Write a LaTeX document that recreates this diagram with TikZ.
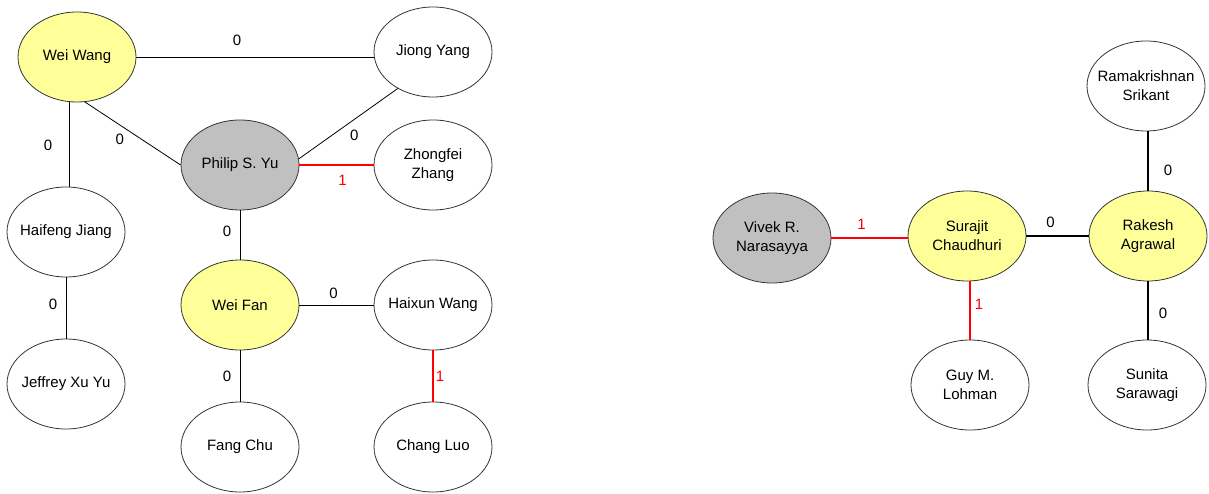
\documentclass[tikz,border=0pt]{standalone}
\usepackage{fontspec}
\setmainfont{Liberation Sans}
\usepackage{xcolor}
\usetikzlibrary{shapes.geometric, positioning}

\definecolor{hiyellow}{RGB}{255,255,153}
\definecolor{seedgray}{RGB}{192,192,192}
\definecolor{tiered}{RGB}{255,0,0}

\begin{document}
\begin{tikzpicture}[
    x=1pt, y=-1pt,
    every node/.style={font=\fontsize{15}{19}\selectfont},
    person/.style={ellipse, draw=black!80, line width=0.8pt, fill=white,
                   minimum width=118pt, minimum height=90pt, inner sep=0pt},
    every label/.style={align=center, inner sep=0pt},
    author/.style={person, fill=hiyellow},
    seed/.style={person, fill=seedgray},
    link/.style={draw=black, line width=0.8pt},
    boldlink/.style={draw=black, line width=1.6pt},
    redlink/.style={draw=tiered, line width=1.6pt},
    lab/.style={inner sep=0pt},
    redlab/.style={inner sep=0pt, text=tiered},
]
\useasboundingbox (0,0) rectangle (1209,494);

% Left graph
\node[author] (weiwang) at (77,57) [label=center:Wei Wang] {};
\node[person] (jiong) at (433,52) [label=center:Jiong Yang] {};
\node[seed] (philip) at (240,165) [label=center:Philip S. Yu] {};
\node[person] (zhongfei) at (433,165) [label={center:Zhongfei\\Zhang}] {};
\node[person] (haifeng) at (66,232) [label=center:Haifeng Jiang] {};
\node[person] (jeffrey) at (66,384) [label=center:Jeffrey Xu Yu] {};
\node[author] (weifan) at (240,305) [label=center:Wei Fan] {};
\node[person] (haixun) at (433,305) [label=center:Haixun Wang] {};
\node[person] (fangchu) at (240,447) [label=center:Fang Chu] {};
\node[person] (changluo) at (433,447) [label=center:Chang Luo] {};

% Right graph
\node[seed] (vivek) at (772,238) [label={center:Vivek R.\\Narasayya}] {};
\node[author] (surajit) at (967,236) [label={center:Surajit\\Chaudhuri}] {};
\node[author] (rakesh) at (1148,236) [label={center:Rakesh\\Agrawal}] {};
\node[person] (srikant) at (1146,86) [label={center:Ramakrishnan\\Srikant}] {};
\node[person] (lohman) at (970,385) [label={center:Guy M.\\Lohman}] {};
\node[person] (sarawagi) at (1147,385) [label={center:Sunita\\Sarawagi}] {};

% Edges
\draw[link] (weiwang.east) -- (weiwang.east -| jiong.west)
    node[lab, pos=0.5, shift={(-18,-17)}] {0};
\draw[link] (weiwang.-80) -- (philip.west)
    node[lab, pos=0.5, shift={(-13,6)}] {0};
\draw[link] (weiwang.-100) -- (weiwang.-100 |- haifeng.north)
    node[lab, pos=0.5, shift={(-21,1)}] {0};
\draw[link] (haifeng.south) -- (jeffrey.north)
    node[lab, pos=0.5, shift={(-13,-4)}] {0};
\draw[link] (jiong.-134) -- (philip.6)
    node[lab, pos=0.5, shift={(6,12)}] {0};
\draw[redlink] (philip.east) -- (zhongfei.west)
    node[redlab, pos=0.5, shift={(6,15)}] {1};
\draw[link] (philip.south) -- (weifan.north)
    node[lab, pos=0.5, shift={(-13,-4)}] {0};
\draw[link] (weifan.east) -- (haixun.west)
    node[lab, pos=0.5, shift={(-3,-12)}] {0};
\draw[link] (weifan.south) -- (fangchu.north)
    node[lab, pos=0.5, shift={(-13,0)}] {0};
\draw[redlink] (haixun.south) -- (changluo.north)
    node[redlab, pos=0.5, shift={(7,0)}] {1};
\draw[redlink] (vivek.east) -- (vivek.east -| surajit.west)
    node[redlab, pos=0.5, shift={(-8,-14)}] {1};
\draw[boldlink] (surajit.east) -- (rakesh.west)
    node[lab, pos=0.5, shift={(-7,-14)}] {0};
\draw[boldlink] (srikant.south -| rakesh.north) -- (rakesh.north)
    node[lab, pos=0.5, shift={(20,9)}] {0};
\draw[redlink] (lohman.north |- surajit.south) -- (lohman.north)
    node[redlab, pos=0.5, shift={(9,-6)}] {1};
\draw[boldlink] (rakesh.south) -- (rakesh.south |- sarawagi.north)
    node[lab, pos=0.5, shift={(15,3)}] {0};

\end{tikzpicture}
\end{document}
